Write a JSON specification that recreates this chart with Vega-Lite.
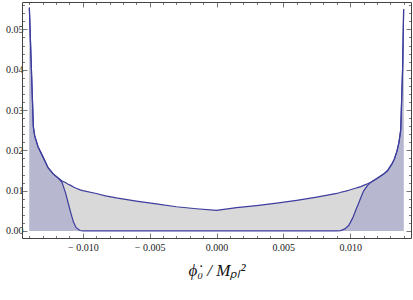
{
  "$schema": "https://vega.github.io/schema/vega-lite/v6.json",
  "width": 413,
  "height": 300,
  "autosize": {"type": "fit", "contains": "padding"},
  "padding": {"left": 5, "top": 1, "right": 1, "bottom": 21},
  "background": "white",
  "config": {
    "view": {"stroke": null},
    "axis": {
      "domainColor": "#444",
      "domainWidth": 1,
      "tickColor": "#555",
      "tickWidth": 0.8,
      "grid": false,
      "labelFont": "Liberation Serif",
      "labelFontSize": 10,
      "labelColor": "#222",
      "titleFont": "Liberation Serif",
      "titleColor": "#111"
    }
  },
  "data": {
    "values": [
      {"x": -0.0140, "u": 0.0554, "l": 0.0554},
      {"x": -0.01385, "u": 0.0405, "l": 0.0405},
      {"x": -0.0137, "u": 0.0258, "l": 0.0258},
      {"x": -0.0136, "u": 0.0236, "l": 0.0236},
      {"x": -0.01335, "u": 0.0209, "l": 0.0209},
      {"x": -0.0130, "u": 0.0185, "l": 0.0185},
      {"x": -0.0126, "u": 0.0157, "l": 0.0157},
      {"x": -0.0122, "u": 0.0141, "l": 0.0141},
      {"x": -0.0118, "u": 0.0130, "l": 0.0130},
      {"x": -0.01155, "u": 0.0124, "l": 0.0120},
      {"x": -0.0113, "u": 0.0120, "l": 0.0095},
      {"x": -0.0111, "u": 0.0116, "l": 0.0070},
      {"x": -0.0109, "u": 0.0113, "l": 0.0045},
      {"x": -0.0107, "u": 0.0109, "l": 0.0022},
      {"x": -0.0105, "u": 0.0106, "l": 0.0008},
      {"x": -0.0102, "u": 0.0102, "l": 0.0001},
      {"x": -0.0100, "u": 0.0100, "l": 0},
      {"x": -0.0090, "u": 0.0093, "l": 0},
      {"x": -0.0083, "u": 0.0087, "l": 0},
      {"x": -0.0075, "u": 0.0082, "l": 0},
      {"x": -0.0060, "u": 0.0074, "l": 0},
      {"x": -0.0045, "u": 0.0067, "l": 0},
      {"x": -0.0030, "u": 0.0060, "l": 0},
      {"x": -0.0015, "u": 0.0055, "l": 0},
      {"x": 0.0, "u": 0.0051, "l": 0},
      {"x": 0.0015, "u": 0.0058, "l": 0},
      {"x": 0.0030, "u": 0.0063, "l": 0},
      {"x": 0.0045, "u": 0.0069, "l": 0},
      {"x": 0.0060, "u": 0.0076, "l": 0},
      {"x": 0.0075, "u": 0.0084, "l": 0},
      {"x": 0.0090, "u": 0.0093, "l": 0},
      {"x": 0.0093, "u": 0.0096, "l": 0.0001},
      {"x": 0.0096, "u": 0.0098, "l": 0.0005},
      {"x": 0.0099, "u": 0.0101, "l": 0.0014},
      {"x": 0.0102, "u": 0.0104, "l": 0.0033},
      {"x": 0.0104, "u": 0.0106, "l": 0.0050},
      {"x": 0.0106, "u": 0.0108, "l": 0.0066},
      {"x": 0.0108, "u": 0.0110, "l": 0.0083},
      {"x": 0.0110, "u": 0.0113, "l": 0.0099},
      {"x": 0.0113, "u": 0.0117, "l": 0.0113},
      {"x": 0.01155, "u": 0.0121, "l": 0.0121},
      {"x": 0.0120, "u": 0.0130, "l": 0.0130},
      {"x": 0.0125, "u": 0.0141, "l": 0.0141},
      {"x": 0.0128, "u": 0.0150, "l": 0.0150},
      {"x": 0.0131, "u": 0.0165, "l": 0.0165},
      {"x": 0.0133, "u": 0.0178, "l": 0.0178},
      {"x": 0.0135, "u": 0.0198, "l": 0.0198},
      {"x": 0.01365, "u": 0.0220, "l": 0.0220},
      {"x": 0.01378, "u": 0.0250, "l": 0.0250},
      {"x": 0.01392, "u": 0.0400, "l": 0.0400},
      {"x": 0.0140, "u": 0.0550, "l": 0.0550}
    ]
  },
  "resolve": {"scale": {"x": "independent", "y": "independent"}},
  "layer": [
    {
      "layer": [
        {
          "mark": {"type": "area", "color": "#d9d9d9"},
          "encoding": {
            "y": {"field": "u", "type": "quantitative"},
            "y2": {"datum": 0}
          }
        },
        {
          "mark": {"type": "area", "color": "#b7b7cf"},
          "encoding": {
            "y": {"field": "l", "type": "quantitative"},
            "y2": {"datum": 0}
          }
        },
        {
          "mark": {"type": "line", "color": "#3d3d9e", "strokeWidth": 1.2},
          "encoding": {"y": {"field": "l", "type": "quantitative"}}
        },
        {
          "mark": {"type": "line", "color": "#3d3d9e", "strokeWidth": 1.2},
          "encoding": {"y": {"field": "u", "type": "quantitative"}}
        }
      ],
      "encoding": {
        "x": {
          "field": "x",
          "type": "quantitative",
          "scale": {"domain": [-0.01455, 0.01455], "nice": false, "zero": false},
          "axis": {
            "orient": "bottom",
            "title": "ϕ̇₀ / Mₚₗ²",
            "titleFontSize": 17,
            "titleFontStyle": "italic",
            "titleFontWeight": "normal",
            "titlePadding": 8,
            "values": [-0.014, -0.013, -0.012, -0.011, -0.010, -0.009, -0.008, -0.007, -0.006, -0.005, -0.004, -0.003, -0.002, -0.001, 0, 0.001, 0.002, 0.003, 0.004, 0.005, 0.006, 0.007, 0.008, 0.009, 0.010, 0.011, 0.012, 0.013, 0.014],
            "labelExpr": "abs(datum.value*200 - round(datum.value*200)) < 0.001 ? (datum.value < -0.0001 ? '− ' + format(-datum.value, '.3f') : format(abs(datum.value), '.3f')) : ''",
            "labelPadding": 9,
            "labelFlush": false,
            "labelOverlap": false,
            "tickSize": {"condition": {"test": "abs(datum.value*200 - round(datum.value*200)) < 0.001", "value": -5}, "value": -2.5}
          }
        },
        "y": {
          "scale": {"domain": [-0.00175, 0.0568], "nice": false, "zero": false},
          "axis": {
            "orient": "left",
            "title": null,
            "values": [0, 0.002, 0.004, 0.006, 0.008, 0.010, 0.012, 0.014, 0.016, 0.018, 0.020, 0.022, 0.024, 0.026, 0.028, 0.030, 0.032, 0.034, 0.036, 0.038, 0.040, 0.042, 0.044, 0.046, 0.048, 0.050, 0.052, 0.054, 0.056],
            "labelExpr": "abs(datum.value*100 - round(datum.value*100)) < 0.001 ? format(datum.value, '.2f') : ''",
            "labelPadding": 4,
            "labelOverlap": false,
            "labelFlush": false,
            "tickSize": {"condition": {"test": "abs(datum.value*100 - round(datum.value*100)) < 0.001", "value": -5}, "value": -2.5}
          }
        }
      }
    },
    {
      "mark": {"type": "point", "opacity": 0},
      "encoding": {
        "x": {
          "field": "x",
          "type": "quantitative",
          "scale": {"domain": [-0.01455, 0.01455], "nice": false, "zero": false},
          "axis": {
            "orient": "top",
            "title": null,
            "labels": false,
            "values": [-0.014, -0.013, -0.012, -0.011, -0.010, -0.009, -0.008, -0.007, -0.006, -0.005, -0.004, -0.003, -0.002, -0.001, 0, 0.001, 0.002, 0.003, 0.004, 0.005, 0.006, 0.007, 0.008, 0.009, 0.010, 0.011, 0.012, 0.013, 0.014],
            "tickSize": {"condition": {"test": "abs(datum.value*200 - round(datum.value*200)) < 0.001", "value": -5}, "value": -2.5}
          }
        },
        "y": {
          "field": "u",
          "type": "quantitative",
          "scale": {"domain": [-0.00175, 0.0568], "nice": false, "zero": false},
          "axis": {
            "orient": "right",
            "title": null,
            "labels": false,
            "values": [0, 0.002, 0.004, 0.006, 0.008, 0.010, 0.012, 0.014, 0.016, 0.018, 0.020, 0.022, 0.024, 0.026, 0.028, 0.030, 0.032, 0.034, 0.036, 0.038, 0.040, 0.042, 0.044, 0.046, 0.048, 0.050, 0.052, 0.054, 0.056],
            "tickSize": {"condition": {"test": "abs(datum.value*100 - round(datum.value*100)) < 0.001", "value": -5}, "value": -2.5}
          }
        }
      }
    }
  ]
}
